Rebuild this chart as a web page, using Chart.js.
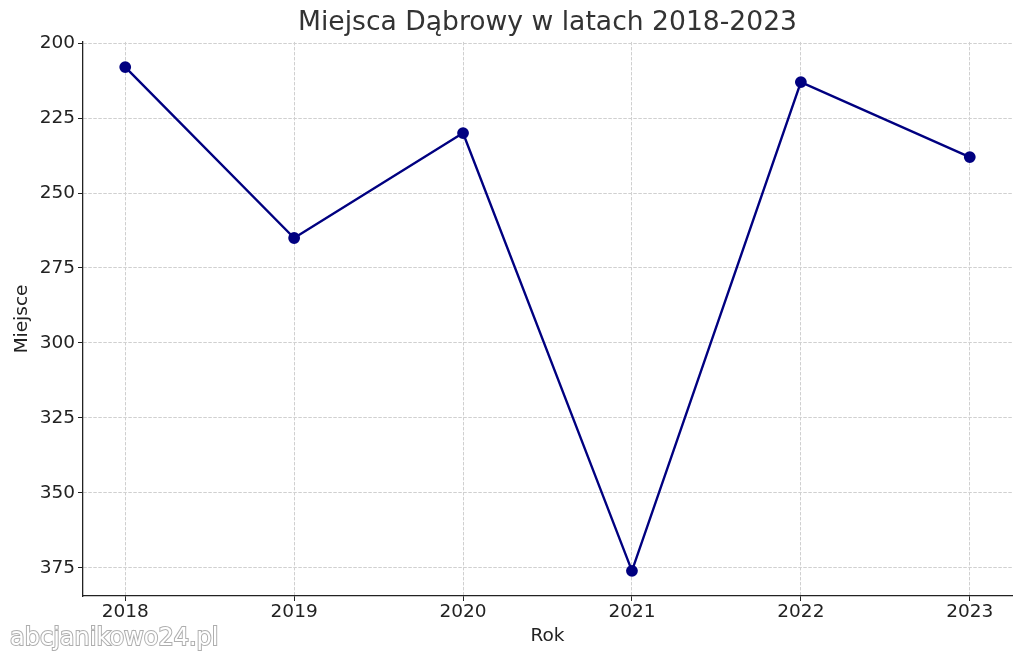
<!DOCTYPE html>
<html>
<head>
<meta charset="utf-8">
<script src="https://cdn.jsdelivr.net/npm/chart.js@4"></script>
<style>
  html, body { margin: 0; padding: 0; background: #fff; }
  #wrap { width: 1024px; height: 660px; }
</style>
</head>
<body>
<div id="wrap"><canvas id="c" width="1024" height="660"></canvas></div>
<script>
const years = [2018, 2019, 2020, 2021, 2022, 2023];
const places = [208, 265, 230, 376, 213, 238];
const yTicks = [200, 225, 250, 275, 300, 325, 350, 375];

const FONT = "'DejaVu Sans', sans-serif";

// watermark in the bottom-left corner, white text with grey outline
const watermark = {
  id: 'watermark',
  afterDraw(chart) {
    const ctx = chart.ctx;
    ctx.save();
    ctx.font = `24px ${FONT}`;
    ctx.textBaseline = 'alphabetic';
    ctx.lineWidth = 2;
    ctx.strokeStyle = 'rgba(160,160,160,0.85)';
    ctx.fillStyle = '#fff';
    ctx.strokeText('abcjanikowo24.pl', 10, 645);
    ctx.fillText('abcjanikowo24.pl', 10, 645);
    ctx.restore();
  }
};

const gridOpts = {
  color: '#d0d0d0',
  tickColor: '#222',
  tickBorderDash: [],
  tickLength: 5,
};
const borderOpts = { display: true, color: '#222', width: 1.3, dash: [3.5, 1.5] };

new Chart(document.getElementById('c'), {
  type: 'line',
  data: {
    datasets: [{
      data: years.map((y, i) => ({ x: y, y: places[i] })),
      borderColor: '#000080',
      backgroundColor: '#000080',
      borderWidth: 2.4,
      pointRadius: 4.7,
      pointHoverRadius: 4.7,
      tension: 0,
    }],
  },
  options: {
    responsive: false,
    animation: false,
    layout: { padding: { left: 0, right: 12, top: 0, bottom: 0 } },
    plugins: {
      legend: { display: false },
      tooltip: { enabled: false },
      title: {
        display: true,
        text: 'Miejsca Dąbrowy w latach 2018-2023',
        color: '#333',
        font: { family: FONT, size: 26.6, weight: 'normal' },
        padding: { top: 7, bottom: 3 },
        fullSize: false,
      },
    },
    scales: {
      x: {
        type: 'linear',
        min: 2017.75,
        max: 2023.25,
        afterBuildTicks: s => { s.ticks = years.map(v => ({ value: v })); },
        afterFit: s => { s.height = 64; },
        ticks: {
          color: '#222',
          font: { family: FONT, size: 18.5 },
          padding: 0,
          callback: v => String(v),
        },
        grid: gridOpts,
        border: borderOpts,
        title: {
          display: true,
          text: 'Rok',
          color: '#222',
          font: { family: FONT, size: 18.5 },
          padding: { top: 0, bottom: 13 },
        },
      },
      y: {
        type: 'linear',
        reverse: true,
        min: 199.6,
        max: 384.4,
        afterBuildTicks: s => { s.ticks = yTicks.map(v => ({ value: v })); },
        afterFit: s => { s.width = 83; },
        ticks: {
          color: '#222',
          font: { family: FONT, size: 18.5 },
          padding: 3,
        },
        grid: gridOpts,
        border: borderOpts,
        title: {
          display: true,
          text: 'Miejsce',
          color: '#222',
          font: { family: FONT, size: 18.5 },
          padding: { top: 11, bottom: 0 },
        },
      },
    },
  },
  plugins: [watermark],
});
</script>
</body>
</html>
